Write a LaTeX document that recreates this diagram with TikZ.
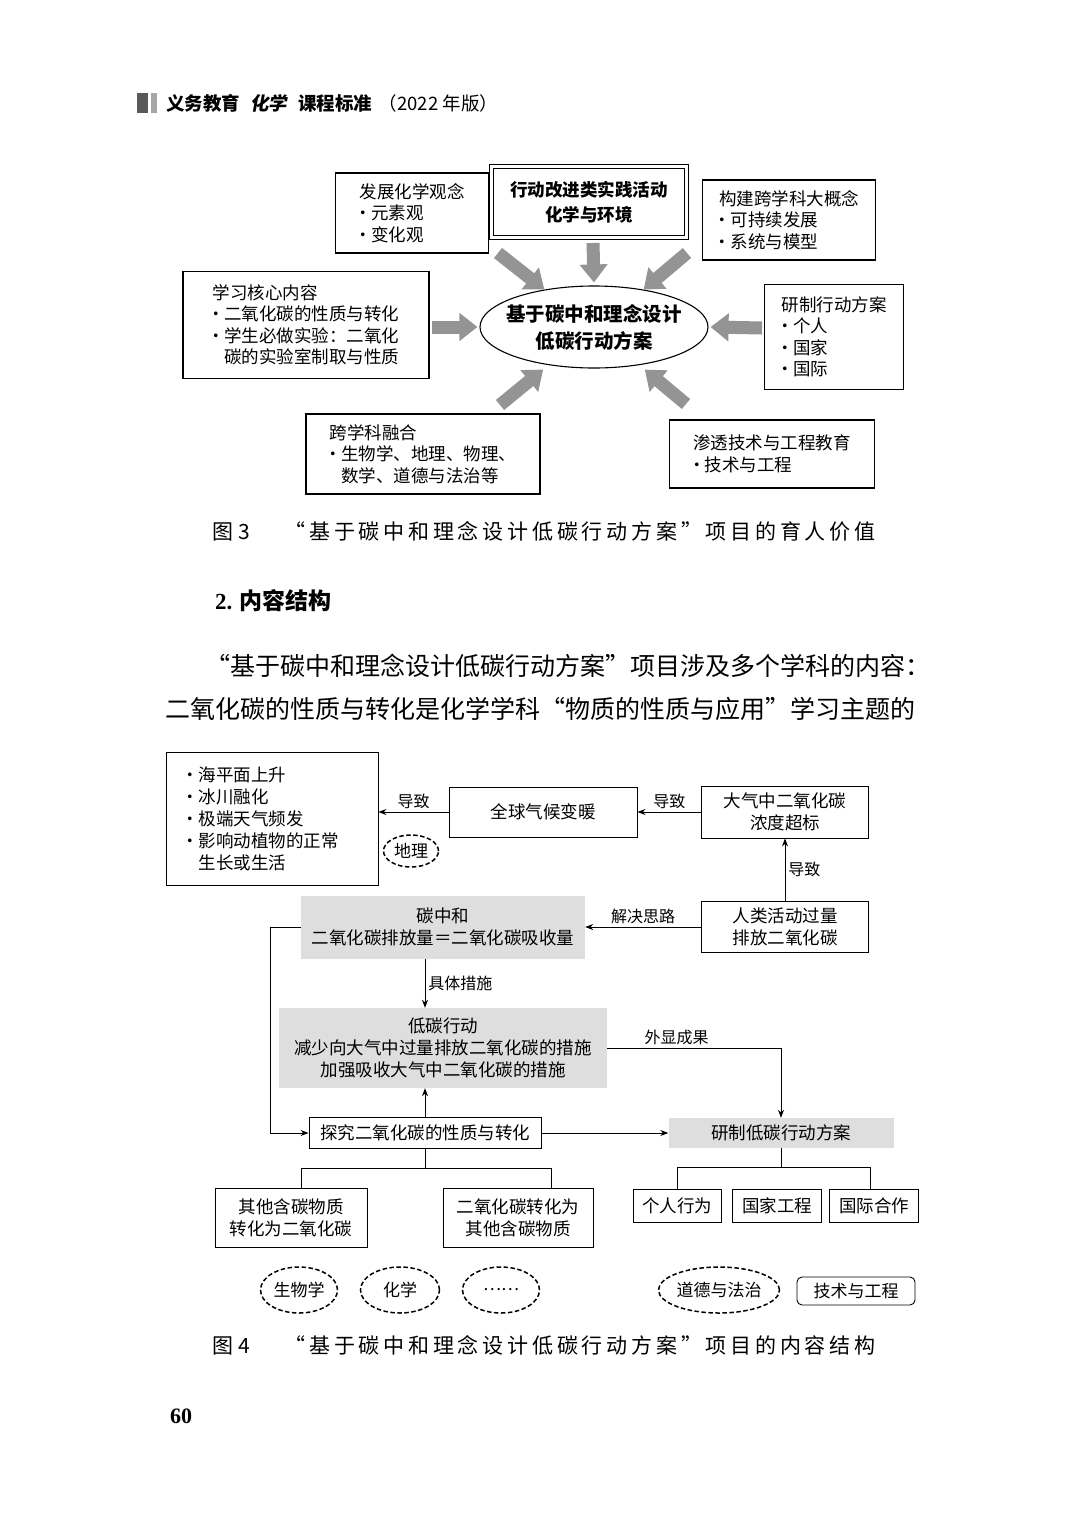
\documentclass[tikz,border=0pt]{standalone}
\usepackage{fontspec}
\setmainfont{Noto Sans CJK SC}
\newfontfamily\slantcjk[FakeSlant=0.18]{Noto Sans CJK SC}
\newfontfamily\capcjk[LetterSpace=18]{Noto Sans CJK SC}
\newfontfamily\numserif{Liberation Serif}
\usetikzlibrary{arrows.meta, shapes.geometric}
\newcommand{\bul}{\makebox[0.66em][l]{\hspace*{-0.3em}·}}
\newcommand{\bsp}{\hspace*{0.66em}}
\tikzset{
  box3/.style  ={draw, line width=1.1pt, align=left, inner sep=0pt, font=\fontsize{17.5}{21.5}\selectfont},
  dbox/.style  ={box3, double, double distance=2.4pt, line width=0.9pt, align=center, font=\fontsize{17.5}{24.5}\selectfont\bfseries},
  hub/.style   ={draw, ellipse, line width=1.1pt, minimum width=228pt, minimum height=82pt, inner sep=0pt},
  hubtxt/.style={align=center, inner sep=0pt, font=\fontsize{19.5}{27}\selectfont\bfseries},
  fat/.style   ={line width=13pt, black!42, -{Triangle[length=18pt,width=27pt]}},   % grey block arrows
  box/.style   ={draw, line width=0.9pt, align=center, inner sep=0pt, font=\fontsize{17.5}{22}\selectfont},
  gbox/.style  ={fill=black!13, align=center, inner sep=0pt, font=\fontsize{17.5}{22}\selectfont},
  dell/.style  ={draw, ellipse, dash pattern=on 4.5pt off 2.5pt, line width=1.5pt, inner sep=0pt, font=\fontsize{17}{20}\selectfont},
  rbox/.style  ={draw, rounded corners=5pt, line width=0.9pt, inner sep=0pt, font=\fontsize{17}{20}\selectfont},
  arr/.style   ={-{Stealth[length=8pt,width=6pt]}, line width=0.9pt},                % thin flow arrow
  lnk/.style   ={line width=0.9pt},
  lbl/.style   ={font=\fontsize{16}{18}\selectfont, inner sep=3pt},
  capt/.style  ={anchor=west, font=\fontsize{21}{24}\selectfont},
  para/.style  ={anchor=west, inner sep=0pt, font=\fontsize{25}{28}\selectfont},
}

\begin{document}
\begin{tikzpicture}[x=1pt, y=-1pt]
  \path[use as bounding box, fill=white] (0,0) rectangle (1086,1536);

  % page head
  \fill[black!65] (137,93) rectangle (148,113);
  \fill[black!35] (151,93) rectangle (157,113);
  \node[anchor=west, inner sep=0pt, font=\fontsize{18.5}{20}\selectfont] (head) at (166,103)
    {\bfseries 义务教育\hspace{0.55em}{\slantcjk\bfseries 化学}\hspace{0.6em}课程标准\mdseries\hspace{0.35em}（2022 年版）};

  % FIG 3: boxes round the hub
  \node[box3, minimum width=153pt, minimum height=80pt] (idea) at (412,213)
    {发展化学观念\\\bul 元素观\\\bul 变化观};
  \node[dbox, minimum width=195pt, minimum height=71pt] (act) at (589,202)
    {行动改进类实践活动\\化学与环境};
  \node[box3, minimum width=173pt, minimum height=80pt] (big) at (789,220)
    {构建跨学科大概念\\\bul 可持续发展\\\bul 系统与模型};
  \node[box3, minimum width=246pt, minimum height=107pt] (learn) at (306,325)
    {学习核心内容\\\bul 二氧化碳的性质与转化\\\bul 学生必做实验：二氧化\\\bsp 碳的实验室制取与性质};
  \node[hub] (core) at (594,327) {};
  \node[hubtxt] (coretxt) at (core) {基于碳中和理念设计\\低碳行动方案};
  \node[box3, minimum width=139pt, minimum height=105pt] (plan) at (834,337)
    {研制行动方案\\\bul 个人\\\bul 国家\\\bul 国际};
  \node[box3, minimum width=234pt, minimum height=80pt] (cross) at (423,454)
    {跨学科融合\\\bul 生物学、地理、物理、\\\bsp 数学、道德与法治等};
  \node[box3, minimum width=205pt, minimum height=68pt] (tech) at (772,454)
    {渗透技术与工程教育\\\bul 技术与工程};

  \coordinate (ul) at (498,253);
  \coordinate (up) at (593,243);
  \coordinate (ur) at (687,253);
  \coordinate (lf) at (432,327);
  \coordinate (rt) at (762,328);
  \coordinate (ll) at (500,405);
  \coordinate (lr) at (686,404);
  \draw[fat] (ul) -- (core.143);
  \draw[fat] (up) -- ([yshift=3pt]core.north);
  \draw[fat] (ur) -- (core.37);
  \draw[fat] (lf) -- ([xshift=-2pt]core.west);
  \draw[fat] (rt) -- ([xshift=2pt]core.east);
  \draw[fat, shorten >=7pt] (ll) -- (core.220);
  \draw[fat, shorten >=7pt] (lr) -- (core.320);

  \node[capt] (cap3) at (209,531)
    {\makebox[72pt][l]{图 3}{\capcjk “基于碳中和理念设计低碳行动方案”项目的育人价值}};

  % text between the figures
  \node[anchor=west, inner sep=0pt, font=\fontsize{23}{26}\selectfont\bfseries] (sec) at (215,601) {{\numserif 2.} 内容结构};
  \node[para] (line1) at (205,666) {“基于碳中和理念设计低碳行动方案”项目涉及多个学科的内容：};
  \node[para] (line2) at (165,709) {二氧化碳的性质与转化是化学学科“物质的性质与应用”学习主题的};

  % FIG 4: top chain
  \node[box, minimum width=212pt, minimum height=133pt, text width=170pt, inner xsep=21pt, align=left] (eff) at (272,819)
    {\bul 海平面上升\\\bul 冰川融化\\\bul 极端天气频发\\\bul 影响动植物的正常\\\bsp 生长或生活};
  \node[box, minimum width=188pt, minimum height=50pt] (warm) at (543,812) {全球气候变暖};
  \node[box, minimum width=167pt, minimum height=52pt] (conc) at (785,812) {大气中二氧化碳\\浓度超标};
  \node[dell, minimum width=55pt, minimum height=32pt] (geo) at (411,851) {地理};
  \node[box, minimum width=167pt, minimum height=51pt] (human) at (785,927) {人类活动过量\\排放二氧化碳};
  \node[gbox, minimum width=284pt, minimum height=63pt] (neut) at (443,927) {碳中和\\二氧化碳排放量＝二氧化碳吸收量};
  \draw[arr] (conc) -- (warm) node[lbl, midway, above] {导致};
  \draw[arr] (warm.west) -- (warm.west -| eff.east) node[lbl, midway, above] {导致};
  \draw[arr] (human) -- (conc) node[lbl, midway, right] {导致};
  \draw[arr] (human) -- (neut) node[lbl, midway, above] {解决思路};

  % FIG 4: middle
  \node[gbox, minimum width=328pt, minimum height=80pt] (lowc) at (443,1048)
    {低碳行动\\减少向大气中过量排放二氧化碳的措施\\加强吸收大气中二氧化碳的措施};
  \node[box, minimum width=232pt, minimum height=31pt] (expl) at (425,1133) {探究二氧化碳的性质与转化};
  \node[gbox, minimum width=225pt, minimum height=30pt] (design) at (781,1133) {研制低碳行动方案};
  \draw[arr] (neut.south -| expl.north) -- (lowc.north -| expl.north) node[lbl, midway, right] {具体措施};
  \draw[arr] (expl.north) -- (expl.north |- lowc.south);
  \draw[arr] (lowc.east) -| (design.north) node[lbl, pos=0.2, above] {外显成果};
  \draw[arr] (neut.west) -- ++(-30,0) |- (expl.west);
  \draw[arr] (expl) -- (design);

  % FIG 4: branches
  \node[box, minimum width=152pt, minimum height=59pt] (oth1) at (291,1218) {其他含碳物质\\转化为二氧化碳};
  \node[box, minimum width=150pt, minimum height=59pt] (oth2) at (518,1218) {二氧化碳转化为\\其他含碳物质};
  \node[box, minimum width=88pt, minimum height=33pt] (ind) at (677,1206) {个人行为};
  \node[box, minimum width=89pt, minimum height=33pt] (nat) at (777,1206) {国家工程};
  \node[box, minimum width=89pt, minimum height=33pt] (intl) at (874,1206) {国际合作};
  \draw[lnk] (expl.south) -- ++(0,19) coordinate (j1);
  \draw[lnk] ([xshift=10pt]oth1.north) |- (j1) -| ([xshift=33pt]oth2.north);
  \draw[lnk] (design.south) -- ++(0,19) coordinate (j2);
  \draw[lnk] (ind.north) |- (j2) -| ([xshift=-4pt]intl.north);

  % FIG 4: subjects
  \node[dell, minimum width=77pt, minimum height=46pt] (bio) at (299,1290) {生物学};
  \node[dell, minimum width=79pt, minimum height=46pt] (chm) at (400,1290) {化学};
  \node[dell, minimum width=77pt, minimum height=46pt] (more) at (501,1290) {……};
  \node[dell, minimum width=121pt, minimum height=46pt] (moral) at (719,1290) {道德与法治};
  \node[rbox, minimum width=118pt, minimum height=28pt] (eng) at (856,1291) {技术与工程};

  \node[capt] (cap4) at (209,1345)
    {\makebox[72pt][l]{图 4}{\capcjk “基于碳中和理念设计低碳行动方案”项目的内容结构}};

  \node[anchor=west, inner sep=0pt, font=\numserif\fontsize{22}{24}\selectfont\bfseries] (page) at (170,1416) {60};
\end{tikzpicture}
\end{document}
